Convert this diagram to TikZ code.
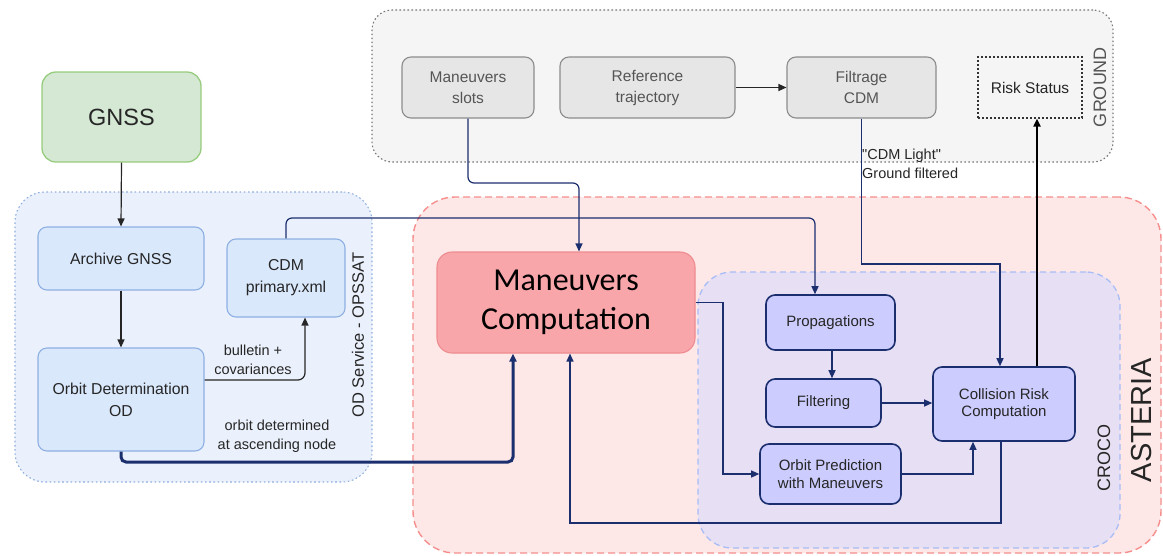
\documentclass[tikz,border=0pt]{standalone}
\usepackage{fontspec}
\setmainfont{Liberation Sans}
\newfontfamily\calibrifont{Carlito}
\newfontfamily\plainsans[Ligatures=ResetAll]{Liberation Sans}
\usetikzlibrary{arrows.meta}

\definecolor{navyline}{HTML}{1B2E6E}
\definecolor{groundfill}{HTML}{F5F5F5}
\definecolor{groundedge}{HTML}{777777}
\definecolor{gboxfill}{HTML}{E6E6E6}
\definecolor{gboxedge}{HTML}{8C8C8C}
\definecolor{gtext}{HTML}{555555}
\definecolor{odfill}{HTML}{EBF1FC}
\definecolor{odedge}{HTML}{8FAEDC}
\definecolor{bluefill}{HTML}{DAE8FC}
\definecolor{blueedge}{HTML}{8EB0E3}
\definecolor{greenfill}{HTML}{D5E8D4}
\definecolor{greenedge}{HTML}{97CC7E}
\definecolor{asteriafill}{HTML}{FDE8E7}
\definecolor{asteriaedge}{HTML}{F58E8C}
\definecolor{mcfill}{HTML}{F9A6AA}
\definecolor{mcedge}{HTML}{EE8C90}
\definecolor{crocofill}{HTML}{E7DFF3}
\definecolor{crocoedge}{HTML}{A8BDF6}
\definecolor{crocobox}{HTML}{CCCCFF}
\definecolor{darktext}{HTML}{262626}

\begin{document}
\begin{tikzpicture}[x=1pt,y=-1pt,
  txt/.style={font=\fontsize{14.5}{19}\selectfont, align=center, text=darktext},
  groundbox/.style={txt, font=\fontsize{15.5}{21}\selectfont, draw=gboxedge, fill=gboxfill,
    line width=1.1pt, rounded corners=9pt, inner sep=0pt, text=gtext},
  odbox/.style={txt, font=\fontsize{15.8}{22}\selectfont, draw=blueedge, fill=bluefill,
    line width=1.1pt, rounded corners=9pt, inner sep=0pt},
  crocobx/.style={txt, font=\fontsize{15}{17.5}\selectfont, draw=navyline, fill=crocobox,
    line width=1.6pt, rounded corners=9pt, inner sep=0pt},
  container/.style={inner sep=0pt},
  tip/.style={-{Triangle[length=8pt,width=7pt]}},
  blackarrow/.style={tip, draw=black!85, line width=1.2pt},
  navyarrow/.style={tip, draw=navyline, line width=1.2pt},
  lbl/.style={txt, inner sep=0pt},
]
\useasboundingbox (0,0) rectangle (1163,555);

% ---- containers ----
\node[container, draw=groundedge, fill=groundfill, line width=1.1pt,
  dash pattern=on 1.6pt off 2.4pt, rounded corners=20pt,
  minimum width=741pt, minimum height=152pt] (groundC) at (742.5,86) {};
\node[container, draw=odedge, fill=odfill, line width=1.1pt,
  dash pattern=on 1.6pt off 2.6pt, rounded corners=30pt,
  minimum width=357pt, minimum height=290pt] (odC) at (193.5,337) {};
\node[container, draw=asteriaedge, fill=asteriafill, line width=1.4pt,
  dash pattern=on 7pt off 4pt, rounded corners=42pt,
  minimum width=748pt, minimum height=356pt] (asteriaC) at (787,375) {};
\node[container, draw=crocoedge, fill=crocofill, line width=1.3pt,
  dash pattern=on 6pt off 4pt, rounded corners=34pt,
  minimum width=422pt, minimum height=276pt] (crocoC) at (909,410) {};

% ---- container titles ----
\node[lbl, rotate=90, text=gtext, font=\fontsize{18}{20}\selectfont] (groundT) at (1100,87) {GROUND};
\node[lbl, rotate=90, font=\fontsize{16.5}{19}\selectfont] (odT) at (358,335) {OD Service - OPSSAT};
\node[lbl, rotate=90, font=\fontsize{18}{20}\selectfont] (crocoT) at (1104,458) {CROCO};
\node[lbl, rotate=90, font=\fontsize{29}{32}\selectfont] (asteriaT) at (1142,420) {ASTERIA};

% ---- ground blocks ----
\node[groundbox, minimum width=132pt, minimum height=61pt] (slots) at (468,87.5) {Maneuvers\\slots};
\node[groundbox, minimum width=175pt, minimum height=61pt] (reftraj) at (647.5,87.5) {Reference\\trajectory};
\node[groundbox, minimum width=149pt, minimum height=61pt] (filtrage) at (861.5,87.5) {Filtrage\\CDM};
\node[txt, font=\fontsize{15.5}{21}\selectfont, draw=black!80, line width=1.3pt,
  dash pattern=on 2pt off 2pt, inner sep=0pt,
  minimum width=104pt, minimum height=61pt] (risk) at (1030,87.5) {Risk Status};

% ---- OD service blocks ----
\node[txt, draw=greenedge, fill=greenfill, line width=1.3pt, rounded corners=14pt, inner sep=0pt,
  minimum width=159pt, minimum height=90pt, font=\fontsize{23.5}{26}\selectfont] (gnss) at (121.5,117) {GNSS};
\node[odbox, minimum width=166pt, minimum height=63pt] (archive) at (121,258.5) {Archive GNSS};
\node[odbox, minimum width=118pt, minimum height=78pt] (cdm) at (286,278) {CDM\\primary.xml};
\node[odbox, minimum width=166pt, minimum height=103pt] (od) at (121,399.5) {Orbit Determination\\OD};

% ---- ASTERIA blocks ----
\node[draw=mcedge, fill=mcfill, line width=1.1pt, rounded corners=15pt, inner sep=0pt,
  minimum width=258pt, minimum height=101pt, align=center, text=black,
  font=\calibrifont\fontsize{32}{39}\selectfont] (mc) at (566,302.5) {Maneuvers\\Computation};
\node[crocobx, minimum width=129pt, minimum height=55pt] (prop) at (830.5,322.5) {Propagations};
\node[crocobx, minimum width=115pt, minimum height=48pt] (filt) at (823.5,403) {Filtering};
\node[crocobx, minimum width=141pt, minimum height=60pt] (orbpred) at (830.5,474) {Orbit Prediction\\with Maneuvers};
\node[crocobx, minimum width=142pt, minimum height=74pt] (coll) at (1004,404) {Collision Risk\\Computation};

% ---- bend points ----
\coordinate (odturn) at (513,462);
\coordinate (slotsturn) at (579,183);
\coordinate (cdmturn) at (815,218);
\coordinate (filtrageturn) at (1000,264);
\coordinate (mcbend) at (723,474);
\coordinate (loopbl) at (570,523);

% ---- connectors: OD service ----
\draw[blackarrow] (gnss.south) -- (archive.north);
\draw[blackarrow] (archive.south) -- (od.north);
\draw[blackarrow, rounded corners=7pt] (od.east |- 0,380) -| ([xshift=19pt]cdm.south);
\draw[tip, draw=navyline, line width=3pt, rounded corners=5pt] (od.south) |- (odturn) -- (odturn |- mc.south);
\draw[navyarrow, rounded corners=6pt] (cdm.north) |- (cdmturn) -- (cdmturn |- prop.north);

% ---- connectors: ground ----
\draw[blackarrow] (reftraj.east) -- (filtrage.west);
\draw[navyarrow, rounded corners=6pt] (slots.south) |- (slotsturn) -- (slotsturn |- mc.north);
\draw[navyarrow] (filtrage.south) |- (filtrageturn) -- (filtrageturn |- coll.north);
\draw[tip, draw=black, line width=2.6pt] (coll.north -| 1037,0) -- (risk.south -| 1037,0);

% ---- connectors: CROCO ----
\draw[navyarrow] (prop.south -| 832,0) -- (filt.north -| 832,0);
\draw[navyarrow] (filt.east) -- (filt.east -| coll.west);
\draw[navyarrow] (orbpred.east) -| (coll.south -| 973,0);
\draw[navyarrow] (mc.east) -| (mcbend) -- (orbpred.west);
\draw[navyarrow] (coll.south -| 1001,0) |- (loopbl) -- (loopbl |- mc.south);

% ---- connector labels ----
\node[lbl] (bulletinL) at (253,359.5) {bulletin +\\covariances};
\node[lbl] (orbitL) at (277,436.5) {orbit determined\\at ascending node};
\node[lbl, anchor=west, align=left, font=\plainsans\fontsize{14.5}{19}\selectfont] (cdmlightL) at (862,164) {"CDM Light"\\Ground filtered};

\end{tikzpicture}
\end{document}
